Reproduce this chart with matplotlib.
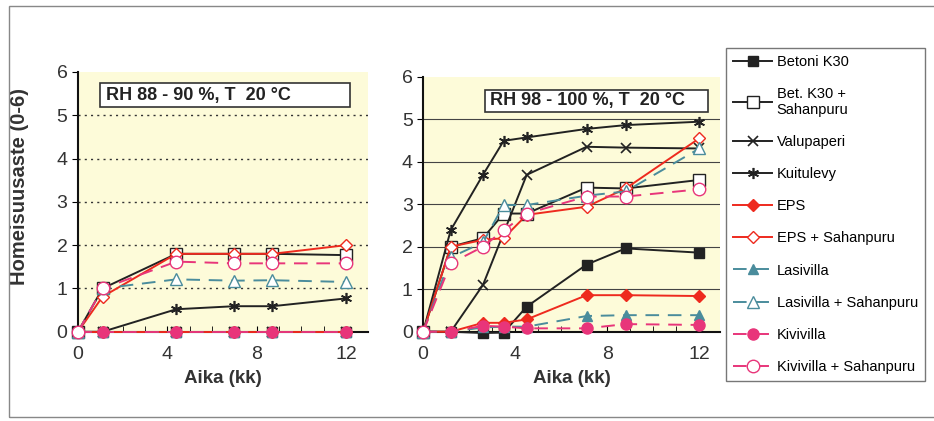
import numpy as np
import matplotlib
matplotlib.use('Agg')
import matplotlib.pyplot as plt
from matplotlib.lines import Line2D

plt.rcParams['font.family'] = ['Liberation Sans', 'DejaVu Sans']

# aikapisteet (kk)
x_vas = [0, 1.1, 4.4, 7.0, 8.7, 12.0]
x_oik = [0, 1.2, 2.6, 3.5, 4.5, 7.1, 8.8, 12.0]

nimet = ['Betoni K30', 'Bet. K30 +\nSahanpuru', 'Valupaperi', 'Kuitulevy', 'EPS',
         'EPS + Sahanpuru', 'Lasivilla', 'Lasivilla + Sahanpuru', 'Kivivilla',
         'Kivivilla + Sahanpuru']

# RH 88 - 90 %
vas_betoni = [0, 0, 0, 0, 0, 0]
vas_betoni_s = [0, 1.0, 1.8, 1.8, 1.8, 1.77]
vas_valupaperi = [0, 0, 0, 0, 0, 0]
vas_kuitulevy = [0, 0, 0.52, 0.59, 0.59, 0.77]
vas_eps = [0, 0, 0, 0, 0, 0]
vas_eps_s = [0, 0.81, 1.8, 1.8, 1.8, 2.0]
vas_lasi = [0, 0, 0, 0, 0, 0]
vas_lasi_s = [0, 1.0, 1.21, 1.18, 1.19, 1.15]
vas_kivi = [0, 0, 0, 0, 0, 0]
vas_kivi_s = [0, 1.0, 1.62, 1.58, 1.58, 1.58]

# RH 98 - 100 %
oik_betoni = [0, 0, -0.03, -0.02, 0.59, 1.58, 1.96, 1.86]
oik_betoni_s = [0, 2.0, 2.2, 2.78, 2.78, 3.39, 3.37, 3.57]
oik_valupaperi = [0, 0, 1.1, np.nan, 3.69, 4.35, 4.33, 4.31]
oik_kuitulevy = [0, 2.39, 3.69, 4.49, 4.57, 4.77, 4.86, 4.94]
oik_eps = [0, 0, 0.21, 0.21, 0.29, 0.86, 0.86, 0.84]
oik_eps_s = [0, 2.0, 2.16, 2.2, 2.75, 2.94, 3.37, 4.55]
oik_lasi = [0, 0, 0.1, 0.12, 0.12, 0.37, 0.39, 0.39]
oik_lasi_s = [0, 1.75, 2.1, 2.98, 2.98, 3.2, 3.3, 4.31]
oik_kivi = [0, 0, 0.14, 0.12, 0.08, 0.08, 0.18, 0.16]
oik_kivi_s = [0, 1.61, 2.0, 2.39, 2.78, 3.18, 3.18, 3.35]

musta = '#222222'
puna = '#ee2a1e'
turkoosi = '#4a8c9c'
pinkki = '#e8357a'
tausta = '#fdfbd9'
katko = (0, (7, 4.5))

tyylit = [
    dict(color=musta, ls='-', marker='s', mfc=musta, ms=7),
    dict(color=musta, ls='-', marker='s', mfc='white', ms=8),
    dict(color=musta, ls='-', marker='x', mfc=musta, ms=7, mew=1.2),
    dict(color=musta, ls='-', marker=(6, 2, 0), mfc=musta, ms=8, mew=1.2),
    dict(color=puna, ls='-', marker='D', mfc=puna, ms=6),
    dict(color=puna, ls='-', marker='D', mfc='white', ms=6),
    dict(color=turkoosi, ls=katko, marker='^', mfc=turkoosi, ms=7),
    dict(color=turkoosi, ls=katko, marker='^', mfc='white', ms=8),
    dict(color=pinkki, ls=katko, marker='o', mfc=pinkki, ms=8),
    dict(color=pinkki, ls=katko, marker='o', mfc='white', ms=9),
]

vas_sarjat = [vas_betoni, vas_betoni_s, vas_valupaperi, vas_kuitulevy, vas_eps,
              vas_eps_s, vas_lasi, vas_lasi_s, vas_kivi, vas_kivi_s]
oik_sarjat = [oik_betoni, oik_betoni_s, oik_valupaperi, oik_kuitulevy, oik_eps,
              oik_eps_s, oik_lasi, oik_lasi_s, oik_kivi, oik_kivi_s]

fig = plt.figure(figsize=(9.34, 4.21), dpi=100)
ax1 = fig.add_axes([0.0835, 0.212, 0.311, 0.617])
ax2 = fig.add_axes([0.453, 0.212, 0.318, 0.606])


def piirra(ax, x, sarjat):
    x = np.array(x)
    for y, st in zip(sarjat, tyylit):
        y = np.array(y, dtype=float)
        ok = ~np.isnan(y)
        ax.plot(x[ok], y[ok], lw=1.4, mec=st['color'], clip_on=False, zorder=3, **st)


for ax, x, sarjat in [(ax1, x_vas, vas_sarjat), (ax2, x_oik, oik_sarjat)]:
    ax.set_facecolor(tausta)
    piirra(ax, x, sarjat)
    ax.set_ylim(0, 6)
    ax.set_xticks([0, 4, 8, 12])
    ax.set_xticks(range(0, 13), minor=True)
    ax.set_yticks(range(0, 7))
    ax.tick_params(axis='x', which='both', direction='in', length=4, pad=10,
                   labelsize=14, labelcolor='#333333')
    ax.tick_params(axis='y', direction='out', length=4, labelsize=14, labelcolor='#333333')
    for s in ['top', 'right']:
        ax.spines[s].set_visible(False)
    for s in ['left', 'bottom']:
        ax.spines[s].set_linewidth(1.5)
        ax.spines[s].set_color('#111111')
    ax.set_xlabel('Aika (kk)', fontsize=13.5, fontweight='bold', labelpad=5, color='#333333')

ax1.set_xlim(0, 13.0)
ax2.set_xlim(0, 12.9)

for yy in range(1, 6):
    ax1.axhline(yy, color='#333333', lw=1.0, ls=(0, (1.5, 3)), zorder=1)
    ax2.axhline(yy, color='#444444', lw=0.8, ls='-', zorder=1)

ax1.set_ylabel('Homeisuusaste (0-6)', fontsize=14.5, fontweight='bold', color='#333333')
ax1.yaxis.set_label_coords(-0.17, 0.56)

# otsikkolaatikot
ax1.add_patch(plt.Rectangle((0.076, 0.864), 0.862, 0.093, transform=ax1.transAxes,
                            fc='white', ec='#333333', lw=1.2, zorder=4))
ax1.text(0.095, 0.91, 'RH 88 - 90 %, T  20 \u00b0C', transform=ax1.transAxes,
         fontsize=13, fontweight='bold', va='center', ha='left', zorder=5, color='#222222')
ax2.add_patch(plt.Rectangle((0.209, 0.862), 0.751, 0.086, transform=ax2.transAxes,
                            fc='white', ec='#333333', lw=1.2, zorder=4))
ax2.text(0.225, 0.905, 'RH 98 - 100 %, T  20 \u00b0C', transform=ax2.transAxes,
         fontsize=13, fontweight='bold', va='center', ha='left', zorder=5, color='#222222')

kahvat = [Line2D([], [], lw=1.4, mec=st['color'], **st) for st in tyylit]
fig.legend(kahvat, nimet, loc='upper left', bbox_to_anchor=(0.777, 0.887),
           frameon=True, fancybox=False, edgecolor='#555555', fontsize=10.5,
           labelspacing=1.24, handlelength=2.7, borderpad=0.5, handletextpad=0.3,
           borderaxespad=0)

# kehys koko kuvan ympärillä
fig.patches.append(plt.Rectangle((0.010, 0.01), 1.2, 0.975, transform=fig.transFigure,
                                 fill=False, ec='#888888', lw=1.0))

plt.savefig('out.png', dpi=100)
